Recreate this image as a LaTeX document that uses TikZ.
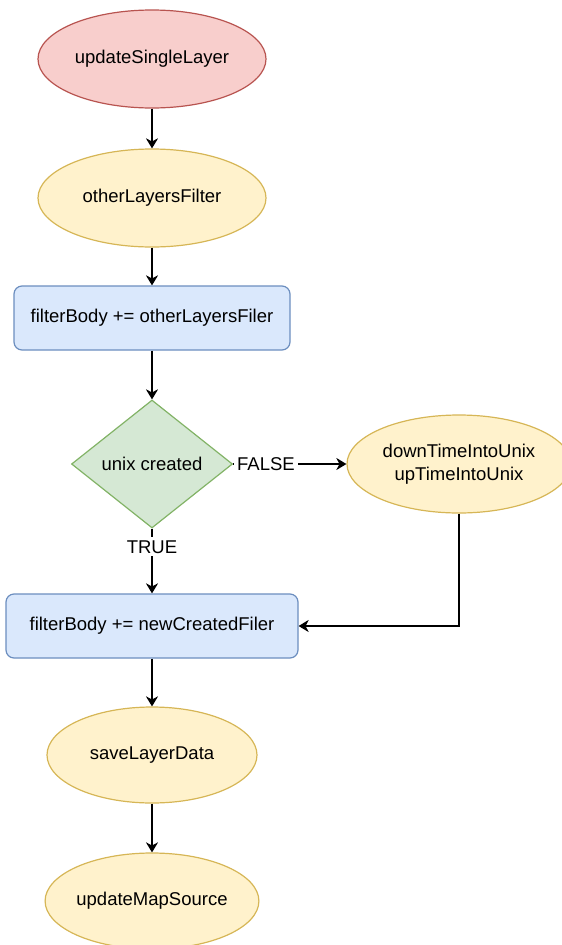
\documentclass[tikz,border=0pt]{standalone}
\usepackage{fontspec}
\setmainfont{Liberation Sans}
\usetikzlibrary{shapes.geometric,arrows.meta}

\definecolor{redfill}{HTML}{F8CECC}
\definecolor{redline}{HTML}{B85450}
\definecolor{yelfill}{HTML}{FFF2CC}
\definecolor{yelline}{HTML}{D6B656}
\definecolor{bluefill}{HTML}{DAE8FC}
\definecolor{blueline}{HTML}{6C8EBF}
\definecolor{grnfill}{HTML}{D5E8D4}
\definecolor{grnline}{HTML}{82B366}

\tikzset{
    base/.style={line width=1.2pt, inner sep=0pt, align=center, font=\fontsize{18.5}{23}\selectfont},
    startnode/.style={base, ellipse, draw=redline, fill=redfill, minimum width=228, minimum height=98},
    stepnode/.style={base, ellipse, draw=yelline, fill=yelfill, minimum width=228, minimum height=98},
    boxnode/.style={base, rectangle, rounded corners=8pt, draw=blueline, fill=bluefill, minimum height=64},
    testnode/.style={base, diamond, draw=grnline, fill=grnfill, minimum width=161, minimum height=128},
    flow/.style={line width=1.5pt, -{Stealth[length=10pt,width=12pt,inset=3pt]}},
    tag/.style={font=\fontsize{18.5}{23}\selectfont, fill=white, inner sep=3pt}
}

\begin{document}
\begin{tikzpicture}[x=1pt, y=-1pt]
    \useasboundingbox (0,0) rectangle (562,945);

    % Posicionar os nos
    \node[startnode] (usl) at (152, 59) {updateSingleLayer};
    \node[stepnode] (olf) at (152, 198) {otherLayersFilter};
    \node[boxnode, minimum width=276] (fb1) at (152, 318) {filterBody += otherLayersFiler};
    \node[testnode] (uc) at (152, 464) {unix created};
    \node[stepnode, minimum width=224] (dt) at (459, 464) {downTimeIntoUnix\\upTimeIntoUnix};
    \node[boxnode, minimum width=292] (fb2) at (152, 626) {filterBody += newCreatedFiler};
    \node[stepnode, minimum width=210, minimum height=96] (sld) at (152, 755) {saveLayerData};
    \node[stepnode, minimum width=210, minimum height=96] (ums) at (152, 901) {updateMapSource};

    % Desenhar as setas
    \draw[flow] (usl) -- (olf);
    \draw[flow] (olf) -- (fb1);
    \draw[flow] (fb1) -- (uc);
    \draw[flow] (uc.east) -- (dt.west) node[tag, pos=0.29] {FALSE};
    \draw[flow] (uc.south) -- (fb2.north) node[tag, pos=0.28] {TRUE};
    \draw[flow] (dt.south) |- (fb2.east);
    \draw[flow] (fb2) -- (sld);
    \draw[flow] (sld) -- (ums);
\end{tikzpicture}
\end{document}
